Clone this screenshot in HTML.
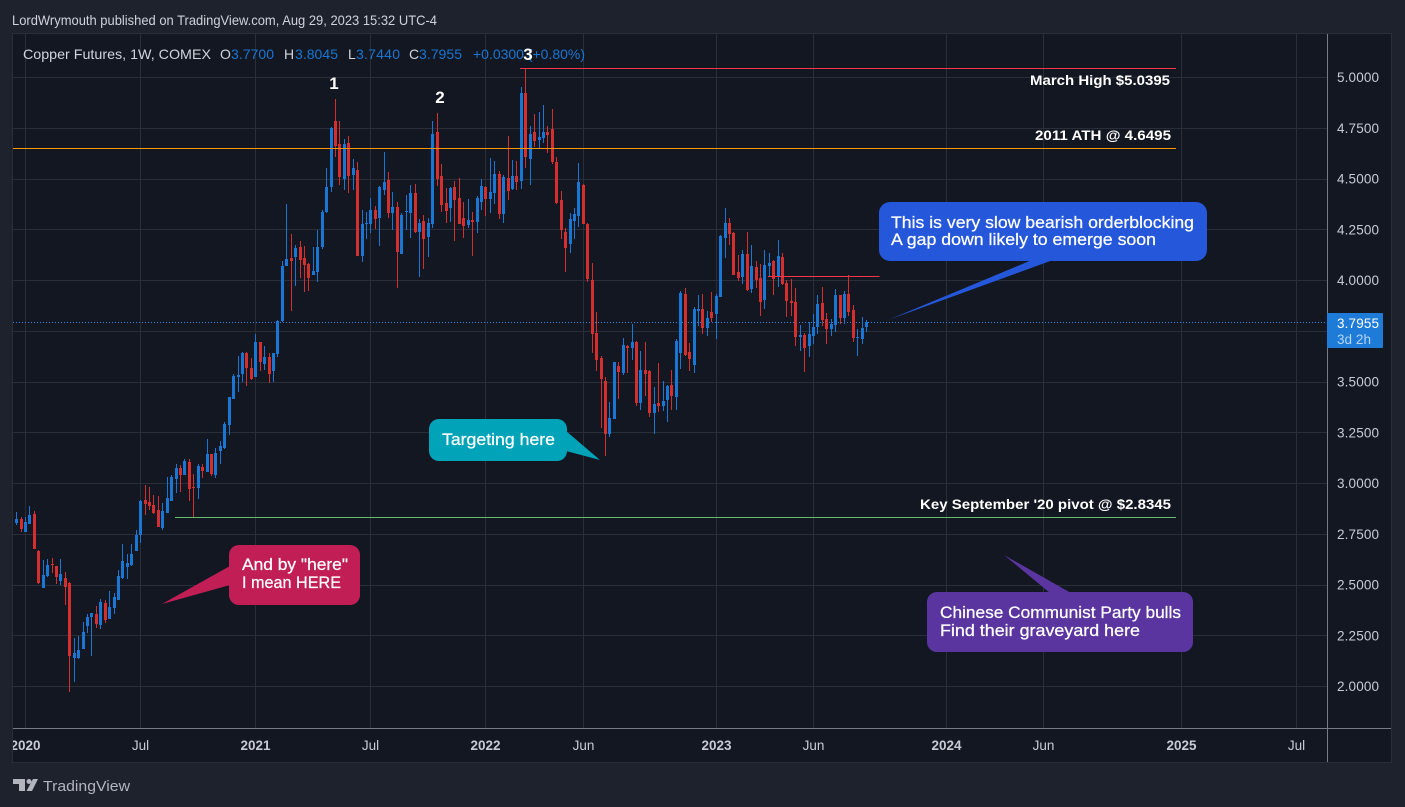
<!DOCTYPE html>
<html lang="en">
<head>
<meta charset="utf-8">
<title>Copper Futures, 1W, COMEX</title>
<style>
html,body{margin:0;padding:0;background:#1e222d;width:1405px;height:807px;overflow:hidden}
svg{display:block;font-family:"Liberation Sans",Arial,sans-serif}
</style>
</head>
<body>
<svg id="chart" width="1405" height="807" viewBox="0 0 1405 807" xmlns="http://www.w3.org/2000/svg">
  <defs>
    <clipPath id="pane-clip"><rect x="13" y="33" width="1379" height="730"/></clipPath>
  </defs>
  <rect x="0" y="0" width="1405" height="807" fill="#1e222d"/>
  <text x="12" y="25" font-size="14" fill="#cfd2da" textLength="425" lengthAdjust="spacingAndGlyphs">LordWrymouth published on TradingView.com, Aug 29, 2023 15:32 UTC-4</text>
  <rect x="12.5" y="33.5" width="1379" height="729" fill="#131722" stroke="#2a2e39" stroke-width="1"/>
  <g id="grid"></g>
  <line id="last-price-line" x1="13" x2="1327" stroke="#2b86e0" stroke-width="1" stroke-dasharray="1 2"/>
  <g id="candles" shape-rendering="crispEdges"></g>
  <g id="levels" shape-rendering="crispEdges"></g>

  <line x1="1327.5" y1="34" x2="1327.5" y2="762" stroke="#787b86" stroke-width="1"/>
  <line x1="13" y1="728.5" x2="1391" y2="728.5" stroke="#787b86" stroke-width="1"/>
  <g id="price-axis"></g>
  <g id="time-axis" clip-path="url(#pane-clip)"></g>

  <g font-size="14">
    <text x="23" y="59" fill="#d1d4dc" textLength="188" lengthAdjust="spacingAndGlyphs">Copper Futures, 1W, COMEX</text>
    <text x="220" y="59" fill="#d1d4dc">O</text>
    <text x="231" y="59" fill="#1976d2" textLength="43">3.7700</text>
    <text x="284" y="59" fill="#d1d4dc">H</text>
    <text x="295" y="59" fill="#1976d2" textLength="43">3.8045</text>
    <text x="348" y="59" fill="#d1d4dc">L</text>
    <text x="356" y="59" fill="#1976d2" textLength="44">3.7440</text>
    <text x="409" y="59" fill="#d1d4dc">C</text>
    <text x="419" y="59" fill="#1976d2" textLength="43">3.7955</text>
    <text x="473" y="59" fill="#1976d2" textLength="112" lengthAdjust="spacingAndGlyphs">+0.0300 (+0.80%)</text>
  </g>

  <g font-size="17" font-weight="bold" fill="#ffffff" text-anchor="middle">
    <text x="334" y="89">1</text>
    <text x="440" y="103">2</text>
    <text x="528" y="60">3</text>
  </g>

  <g font-size="14" font-weight="bold" fill="#ffffff">
    <text x="1030" y="85" textLength="140" lengthAdjust="spacingAndGlyphs">March High $5.0395</text>
    <text x="1035" y="140" textLength="136" lengthAdjust="spacingAndGlyphs">2011 ATH @ 4.6495</text>
    <text x="920" y="509" textLength="251" lengthAdjust="spacingAndGlyphs">Key September '20 pivot @ $2.8345</text>
  </g>

  <g font-size="17" fill="#ffffff" stroke-width="0.25">
    <polygon points="1032,260 1053,260 888,320" fill="#2457da"/>
    <rect x="879" y="202" width="328" height="59" rx="11" fill="#2457da"/>
    <text x="891" y="228" stroke="#fff" textLength="303" lengthAdjust="spacingAndGlyphs">This is very slow bearish orderblocking</text>
    <text x="891" y="245" stroke="#fff" textLength="265" lengthAdjust="spacingAndGlyphs">A gap down likely to emerge soon</text>
  </g>
  <g font-size="17" fill="#ffffff" stroke-width="0.25">
    <polygon points="566,431 566,451 600,460" fill="#00a3b8"/>
    <rect x="429" y="419" width="138" height="42" rx="10" fill="#00a3b8"/>
    <text x="442" y="445" stroke="#fff" textLength="113" lengthAdjust="spacingAndGlyphs">Targeting here</text>
  </g>
  <g font-size="17" fill="#ffffff" stroke-width="0.25">
    <polygon points="230,566 230,585 162,604" fill="#c21e56"/>
    <rect x="229" y="545" width="131" height="60" rx="10" fill="#c21e56"/>
    <text x="242" y="570" stroke="#fff" textLength="106" lengthAdjust="spacingAndGlyphs">And by "here"</text>
    <text x="242" y="588" stroke="#fff" textLength="99" lengthAdjust="spacingAndGlyphs">I mean HERE</text>
  </g>
  <g font-size="17" fill="#ffffff" stroke-width="0.25">
    <polygon points="1004,555 1050,593 1071,593" fill="#5a35a0"/>
    <rect x="927" y="592" width="266" height="60" rx="10" fill="#5a35a0"/>
    <text x="940" y="618" stroke="#fff" textLength="241" lengthAdjust="spacingAndGlyphs">Chinese Communist Party bulls</text>
    <text x="940" y="636" stroke="#fff" textLength="200" lengthAdjust="spacingAndGlyphs">Find their graveyard here</text>
  </g>

  <g id="last-price-badge">
    <rect x="1327" y="313" width="56" height="35" rx="1" fill="#1e7bd8"/>
    <text id="last-price-text" x="1337" y="328" font-size="13.5" fill="#ffffff" textLength="42"></text>
    <text x="1337" y="344" font-size="13.5" fill="#b5d5f5" textLength="34">3d 2h</text>
  </g>

  <g fill="#b2b5be">
    <polygon points="13,779 25,779 25,791 19,791 19,784 13,784"/>
    <circle cx="29" cy="781.5" r="2.5"/>
    <polygon points="33,779 38,779 32,791 26.5,791"/>
    <text x="43" y="791" font-size="15" textLength="87" lengthAdjust="spacingAndGlyphs">TradingView</text>
  </g>
</svg>

<script>
const opens = [
2.803,2.823,2.758,2.798,2.847,2.665,2.483,2.542,2.601,2.591,
2.517,2.532,2.507,2.138,2.138,2.182,2.296,2.340,2.355,2.301,
2.409,2.330,2.384,2.424,2.532,2.586,2.596,2.665,2.744,2.916,
2.906,2.891,2.867,2.778,2.852,2.911,3.020,3.074,3.039,3.103,
2.980,2.975,3.078,3.054,3.143,3.039,3.158,3.172,3.286,3.414,
3.522,3.537,3.640,3.567,3.522,3.694,3.586,3.621,3.552,3.635,
3.798,4.069,4.109,4.113,4.163,4.109,4.079,4.025,4.039,4.163,
4.335,4.458,4.783,4.670,4.497,4.675,4.517,4.542,4.118,4.276,
4.276,4.345,4.305,4.443,4.493,4.330,4.360,4.128,4.335,4.330,
4.428,4.236,4.291,4.212,4.276,4.729,4.512,4.379,4.355,4.458,
4.404,4.305,4.271,4.296,4.286,4.384,4.458,4.399,4.428,4.522,
4.325,4.502,4.448,4.512,4.488,4.921,4.596,4.729,4.690,4.700,
4.729,4.744,4.581,4.394,4.236,4.177,4.291,4.315,4.468,4.276,
4.000,3.739,3.616,3.502,3.241,3.315,3.576,3.542,3.675,3.665,
3.694,3.394,3.557,3.552,3.345,3.394,3.379,3.409,3.483,3.424,
3.640,3.931,3.645,3.581,3.847,3.857,3.764,3.842,3.833,3.916,
4.207,4.281,4.232,4.039,4.015,4.128,3.956,4.064,4.010,3.901,
4.069,4.094,4.015,4.113,3.985,3.897,3.892,3.719,3.729,3.675,
3.724,3.768,3.887,3.808,3.759,3.778,3.926,3.813,3.931,3.852,
3.714,3.709,3.770];
const highs = [
2.857,2.833,2.833,2.886,2.862,2.670,2.621,2.626,2.631,2.591,
2.626,2.562,2.512,2.237,2.247,2.315,2.355,2.360,2.394,2.429,
2.424,2.468,2.458,2.571,2.699,2.650,2.699,2.768,2.916,2.990,
2.980,2.941,2.936,2.901,3.029,3.039,3.093,3.088,3.118,3.118,
3.044,3.093,3.093,3.217,3.143,3.172,3.207,3.300,3.424,3.537,
3.626,3.645,3.645,3.616,3.734,3.694,3.675,3.640,3.640,3.803,
4.094,4.374,4.227,4.172,4.192,4.168,4.084,4.163,4.246,4.345,
4.552,4.754,4.892,4.783,4.695,4.709,4.596,4.581,4.345,4.335,
4.404,4.365,4.463,4.631,4.532,4.433,4.384,4.330,4.419,4.468,
4.473,4.300,4.320,4.305,4.783,4.823,4.571,4.453,4.458,4.488,
4.503,4.384,4.399,4.335,4.414,4.497,4.463,4.601,4.586,4.537,
4.517,4.709,4.591,4.586,4.951,5.039,4.759,4.818,4.828,4.862,
4.759,4.842,4.606,4.438,4.256,4.330,4.355,4.576,4.473,4.281,
4.084,3.842,3.626,3.522,3.399,3.596,3.596,3.714,3.680,3.783,
3.699,3.650,3.694,3.557,3.473,3.591,3.502,3.483,3.557,3.709,
3.946,3.961,3.690,3.867,3.926,3.931,3.847,3.941,3.931,4.222,
4.355,4.305,4.236,4.123,4.148,4.236,4.172,4.094,4.079,4.148,
4.133,4.099,4.197,4.133,4.000,4.005,3.961,3.778,3.739,3.793,
3.833,3.926,3.966,3.838,3.808,3.956,3.926,3.946,4.025,3.877,
3.759,3.818,3.8045];
const lows = [
2.793,2.758,2.758,2.798,2.675,2.502,2.483,2.537,2.557,2.502,
2.497,2.399,1.970,2.020,2.133,2.182,2.261,2.148,2.286,2.281,
2.310,2.330,2.355,2.424,2.527,2.527,2.591,2.665,2.704,2.842,
2.867,2.847,2.783,2.768,2.852,2.911,2.951,2.956,3.039,2.911,
2.833,2.921,3.025,3.054,3.034,3.025,3.093,3.167,3.236,3.414,
3.448,3.497,3.478,3.507,3.522,3.552,3.557,3.493,3.497,3.621,
3.793,4.069,3.847,3.970,4.010,3.941,3.946,4.025,3.990,4.153,
4.330,4.433,4.606,4.468,4.443,4.428,4.443,4.118,4.089,4.202,
4.232,4.251,4.168,4.419,4.305,4.246,3.961,4.128,4.246,4.207,
4.232,4.015,4.054,4.113,4.256,4.463,4.335,4.281,4.286,4.192,
4.276,4.207,4.256,4.118,4.232,4.345,4.315,4.330,4.374,4.300,
4.281,4.394,4.443,4.443,4.448,4.552,4.468,4.655,4.645,4.675,
4.626,4.571,4.374,4.202,4.039,4.133,4.202,4.261,4.276,3.990,
3.640,3.552,3.271,3.133,3.226,3.315,3.414,3.532,3.542,3.606,
3.379,3.360,3.429,3.325,3.241,3.350,3.355,3.300,3.360,3.360,
3.561,3.626,3.552,3.542,3.773,3.734,3.724,3.793,3.709,3.916,
4.109,4.172,4.025,3.995,3.980,3.946,3.936,3.961,3.823,3.857,
4.015,3.926,3.966,3.975,3.818,3.823,3.675,3.650,3.547,3.621,
3.685,3.734,3.773,3.685,3.724,3.744,3.783,3.783,3.823,3.694,
3.626,3.685,3.744];
const closes = [
2.823,2.773,2.808,2.842,2.675,2.507,2.547,2.596,2.596,2.537,
2.552,2.488,2.148,2.163,2.177,2.266,2.340,2.360,2.306,2.414,
2.325,2.389,2.438,2.542,2.616,2.606,2.650,2.744,2.911,2.896,
2.886,2.852,2.783,2.862,2.926,3.029,3.074,3.039,3.108,2.970,
2.975,3.083,3.059,3.143,3.044,3.148,3.182,3.290,3.424,3.527,
3.532,3.640,3.567,3.512,3.694,3.596,3.621,3.537,3.640,3.798,
4.069,4.104,4.094,4.158,4.099,4.074,4.010,4.044,4.163,4.335,
4.458,4.749,4.660,4.507,4.670,4.512,4.552,4.118,4.276,4.281,
4.345,4.300,4.458,4.483,4.330,4.360,4.138,4.320,4.340,4.428,
4.236,4.281,4.202,4.281,4.719,4.497,4.369,4.340,4.453,4.394,
4.276,4.266,4.296,4.286,4.404,4.463,4.399,4.433,4.522,4.325,
4.507,4.438,4.512,4.483,4.921,4.606,4.719,4.685,4.705,4.729,
4.714,4.581,4.379,4.246,4.158,4.300,4.325,4.483,4.276,4.005,
3.734,3.606,3.512,3.241,3.320,3.596,3.547,3.680,3.665,3.694,
3.394,3.557,3.537,3.345,3.389,3.379,3.404,3.478,3.429,3.699,
3.936,3.631,3.611,3.857,3.857,3.764,3.813,3.813,3.921,4.217,
4.281,4.227,4.025,4.010,4.128,3.951,4.069,4.000,3.892,4.074,
4.084,4.005,4.118,3.980,3.897,3.887,3.719,3.729,3.665,3.734,
3.768,3.882,3.803,3.759,3.783,3.926,3.813,3.931,3.842,3.714,
3.719,3.763,3.7955];

const priceTicks = [5, 4.75, 4.5, 4.25, 4, 3.75, 3.5, 3.25, 3, 2.75, 2.5, 2.25, 2];
const timeTickLabels = ["2020","Jul","2021","Jul","2022","Jun","2023","Jun","2024","Jun","2025","Jul"];
const timeTickBars = [2, 28, 54, 80, 106, 128, 158, 180, 210, 232, 263, 289];

const levelPrices = [5.042, 4.6495, 2.8345, 4.018];
const levelStartBars = [113.8, -1, 35.9, 169.8];
const levelEndBars = [262, 262, 262, 195];
const levelNames = ["march-high-line", "ath-2011-line", "september-pivot-line", "order-block-line"];
const levelColors = ["#f23645", "#ff9800", "#66bb6a", "#f23645"];

const NS = "http://www.w3.org/2000/svg";
function xOf(bar) { return 16.2 + bar * 4.427; }
function yOf(price) { return 77 + (5 - price) * 203; }

const gridGroup = document.getElementById("grid");
const candleGroup = document.getElementById("candles");
const levelGroup = document.getElementById("levels");
const priceAxisGroup = document.getElementById("price-axis");
const timeAxisGroup = document.getElementById("time-axis");

priceTicks.forEach(function (tick) {
  const y = Math.round(yOf(tick)) + 0.5;
  const line = document.createElementNS(NS, "line");
  
  
  line.setAttribute("x1", 13);
  line.setAttribute("x2", 1327);
  line.setAttribute("y1", y);
  line.setAttribute("y2", y);
  line.setAttribute("stroke", "#2a2e39");
  gridGroup.appendChild(line);

  const label = document.createElementNS(NS, "text");
  
  
  label.setAttribute("x", 1337);
  label.setAttribute("y", yOf(tick) + 5);
  label.setAttribute("font-size", "13.5");
  label.setAttribute("fill", "#c8cbd3");
  label.setAttribute("textLength", "42");
  label.textContent = tick.toFixed(4);
  priceAxisGroup.appendChild(label);
});

timeTickBars.forEach(function (bar, k) {
  const x = Math.round(xOf(bar)) + 0.5;
  const line = document.createElementNS(NS, "line");
  
  
  line.setAttribute("x1", x);
  line.setAttribute("x2", x);
  line.setAttribute("y1", 34);
  line.setAttribute("y2", 728);
  line.setAttribute("stroke", "#2a2e39");
  gridGroup.appendChild(line);

  const isYear = /^\d{4}$/.test(timeTickLabels[k]);
  const label = document.createElementNS(NS, "text");
  
  
  label.setAttribute("x", x);
  label.setAttribute("y", 750);
  label.setAttribute("text-anchor", "middle");
  label.setAttribute("font-size", "13.5");
  label.setAttribute("font-weight", isYear ? "bold" : "normal");
  label.setAttribute("fill", "#c8cbd3");
  label.textContent = timeTickLabels[k];
  timeAxisGroup.appendChild(label);
});

opens.forEach(function (open, i) {
  const close = closes[i];
  const color = close >= open ? "#1976d2" : "#d32f2f";
  const cx = Math.round(xOf(i));
  const wickTop = Math.round(yOf(highs[i]));
  const wickBottom = Math.round(yOf(lows[i]));
  const bodyTop = Math.round(yOf(Math.max(open, close)));
  const bodyBottom = Math.round(yOf(Math.min(open, close)));

  const wick = document.createElementNS(NS, "rect");
  
  
  wick.setAttribute("x", cx);
  wick.setAttribute("y", wickTop);
  wick.setAttribute("width", 1);
  wick.setAttribute("height", Math.max(1, wickBottom - wickTop));
  wick.setAttribute("fill", color);
  candleGroup.appendChild(wick);

  const body = document.createElementNS(NS, "rect");
  
  
  body.setAttribute("x", cx - 1);
  body.setAttribute("y", bodyTop);
  body.setAttribute("width", 3);
  body.setAttribute("height", Math.max(1, bodyBottom - bodyTop));
  body.setAttribute("fill", color);
  candleGroup.appendChild(body);
});

levelPrices.forEach(function (price, k) {
  const y = Math.round(yOf(price)) + 0.5;
  const line = document.createElementNS(NS, "line");
  
  
  line.setAttribute("x1", Math.max(13, xOf(levelStartBars[k])));
  line.setAttribute("x2", xOf(levelEndBars[k]));
  line.setAttribute("y1", y);
  line.setAttribute("y2", y);
  line.setAttribute("stroke", levelColors[k]);
  levelGroup.appendChild(line);
});

const lastClose = closes[closes.length - 1];
const lastLine = document.getElementById("last-price-line");
lastLine.setAttribute("y1", Math.round(yOf(lastClose)) + 0.5);
lastLine.setAttribute("y2", Math.round(yOf(lastClose)) + 0.5);
document.getElementById("last-price-text").textContent = lastClose.toFixed(4);
</script>
</body>
</html>
